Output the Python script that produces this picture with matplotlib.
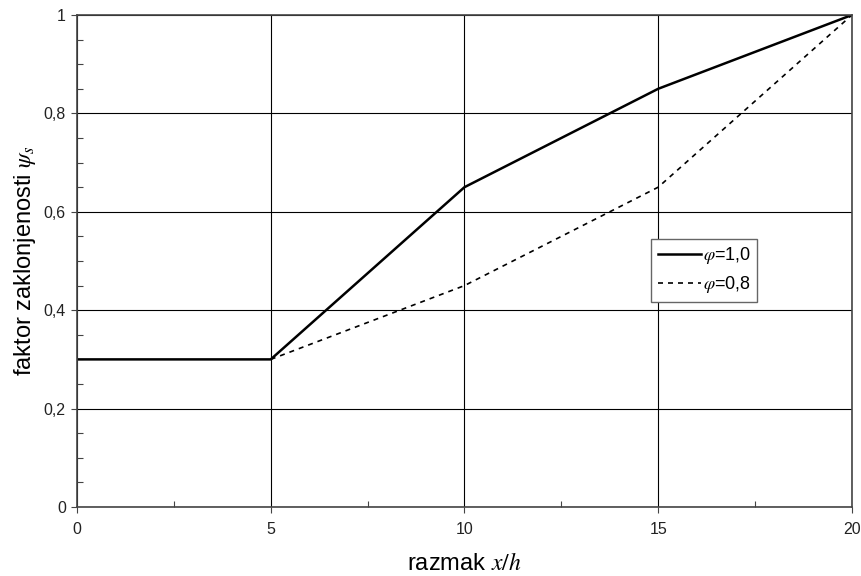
import numpy as np
import matplotlib
matplotlib.use("Agg")
from matplotlib import pyplot as plt
from matplotlib.ticker import MultipleLocator, FuncFormatter

plt.rcParams['font.family'] = ['Liberation Sans', 'DejaVu Sans']
plt.rcParams['mathtext.fontset'] = 'stix'

# data
x_full = [0, 5, 10, 15, 20]
psi_10 = [0.3, 0.3, 0.65, 0.85, 1.0]
x_part = [5, 10, 15, 20]
psi_08 = [0.3, 0.45, 0.65, 1.0]

fig = plt.figure(figsize=(8.61, 5.76), dpi=100)
ax = fig.add_axes([0.0894, 0.1198, 0.9001, 0.8542])

ax.plot(x_full, psi_10, color='black', lw=1.8, label=r'$\varphi$=1,0')
ax.plot(x_part, psi_08, color='black', lw=1.2, ls=(0, (3, 3)), label=r'$\varphi$=0,8')

ax.set_xlim(0, 20)
ax.set_ylim(0, 1)
ax.xaxis.set_major_locator(MultipleLocator(5))
ax.xaxis.set_minor_locator(MultipleLocator(2.5))
ax.yaxis.set_major_locator(MultipleLocator(0.2))
ax.yaxis.set_minor_locator(MultipleLocator(0.05))

def comma(v, pos):
    if abs(v - round(v)) < 1e-9:
        return '%d' % round(v)
    return ('%.1f' % v).replace('.', ',')

ax.xaxis.set_major_formatter(FuncFormatter(comma))
ax.yaxis.set_major_formatter(FuncFormatter(comma))

ax.grid(True, which='major', color='black', lw=0.8)
ax.tick_params(which='major', direction='out', length=4, width=0.8, labelsize=11.5,
               color='#444444', labelcolor='#222222')
ax.tick_params(which='minor', direction='in', length=4, width=0.8, color='#444444')
ax.tick_params(axis='x', pad=7)
ax.tick_params(axis='y', pad=4)
for s in ax.spines.values():
    s.set_color('#444444')
    s.set_linewidth(1.2)

ax.set_xlabel(r'razmak $\mathit{x/h}$', fontsize=17, labelpad=11)
ax.set_ylabel(r'faktor zaklonjenosti $\psi_s$', fontsize=17, labelpad=4)

leg = ax.legend(loc='upper left', bbox_to_anchor=(0.741, 0.545), fontsize=13,
                fancybox=False, framealpha=1, edgecolor='#666666',
                handlelength=2.4, handletextpad=0.1, borderpad=0.35,
                labelspacing=0.45, borderaxespad=0)
leg.get_frame().set_linewidth(1.0)

fig.savefig('out.png', dpi=100)
